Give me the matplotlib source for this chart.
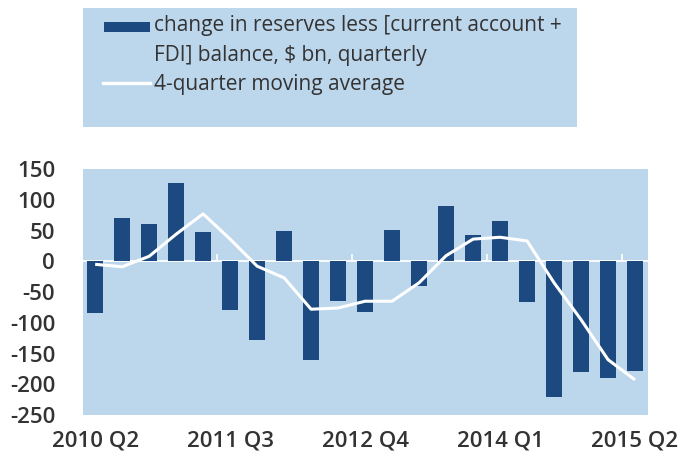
import matplotlib
matplotlib.use("Agg")
import matplotlib.pyplot as plt
from matplotlib.patches import Rectangle
from matplotlib.lines import Line2D

quarters = ["2010 Q2", "2010 Q3", "2010 Q4", "2011 Q1", "2011 Q2", "2011 Q3", "2011 Q4",
            "2012 Q1", "2012 Q2", "2012 Q3", "2012 Q4", "2013 Q1", "2013 Q2", "2013 Q3",
            "2013 Q4", "2014 Q1", "2014 Q2", "2014 Q3", "2014 Q4", "2015 Q1", "2015 Q2"]
reserves_less_balance = [-84, 70, 60, 127, 47, -80, -128, 50, -160, -65, -82, 51, -41, 90,
                         42, 66, -66, -220, -180, -190, -178]
moving_average = [-5, -9, 8, 44, 77, 36, -8, -27, -78, -76, -65, -65, -35, 9, 36, 39, 33,
                  -35, -95, -160, -193]
shown_ticks = ["2010 Q2", "2011 Q3", "2012 Q4", "2014 Q1", "2015 Q2"]
y_ticks = [150, 100, 50, 0, -50, -100, -150, -200, -250]

BG = "#bcd6ec"
NAVY = "#1c4a80"
TXT = "#333333"
FONT = ["Open Sans", "DejaVu Sans"]

W, H = 684, 457
fig = plt.figure(figsize=(W / 100, H / 100), dpi=100)
fig.patch.set_facecolor("white")

# legend box
fig.patches.append(Rectangle((83 / W, 1 - 127 / H), 494 / W, 119 / H,
                             transform=fig.transFigure, facecolor=BG, edgecolor="none",
                             zorder=0))

ax = fig.add_axes([83 / W, 1 - 415 / H, (648 - 83) / W, (415 - 169) / H])
ax.set_facecolor(BG)
x = list(range(len(quarters)))
ax.bar(x, reserves_less_balance, width=0.58, color=NAVY, zorder=2)
ax.axhline(0, color="white", lw=1.3, zorder=1)
ax.vlines([4.5, 9.5, 14.5, 19.5], 0, 11, color="white", lw=1.2, zorder=1)
ax.plot(x, moving_average, color="white", lw=2.2, zorder=3, solid_capstyle="butt")

ax.set_xlim(-0.45, 20.48)
ax.set_ylim(-250, 150)
ax.set_yticks(y_ticks)
ax.set_yticklabels([str(v) for v in y_ticks])
ax.set_xticks([quarters.index(q) for q in shown_ticks])
ax.set_xticklabels(shown_ticks)
for s in ax.spines.values():
    s.set_visible(False)
ax.tick_params(axis="both", length=0, colors=TXT, labelsize=16)
ax.tick_params(axis="y", pad=20)
ax.tick_params(axis="x", pad=11)
for lbl in ax.get_xticklabels() + ax.get_yticklabels():
    lbl.set_family(FONT)
    lbl.set_fontweight("semibold")

# legend entries
fig.patches.append(Rectangle((104 / W, 1 - 32 / H), 46 / W, 10 / H,
                             transform=fig.transFigure, facecolor=NAVY, edgecolor="none"))
fig.lines.append(Line2D([103 / W, 150 / W], [1 - 83 / H, 1 - 83 / H],
                        transform=fig.transFigure, color="white", lw=2.4))
for txt, yb in [("change in reserves less [current account +", 31),
                ("FDI] balance, $ bn, quarterly", 61),
                ("4-quarter moving average", 90)]:
    fig.text(154 / W, 1 - yb / H, txt, family=FONT, fontsize=15, color=TXT,
             va="baseline", ha="left")

fig.savefig("out.png", dpi=100, facecolor="white")
